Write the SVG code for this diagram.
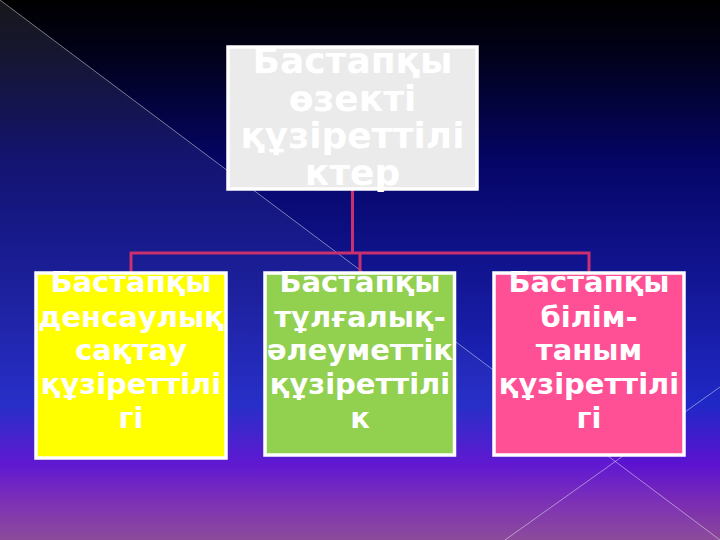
<svg xmlns="http://www.w3.org/2000/svg" width="720" height="540" viewBox="0 0 720 540">
<defs>
<linearGradient id="bg" x1="0" y1="0" x2="0" y2="1">
<stop offset="0" stop-color="#000000"/>
<stop offset="0.1" stop-color="#01011a"/>
<stop offset="0.3" stop-color="#050566"/>
<stop offset="0.55" stop-color="#14189a"/>
<stop offset="0.75" stop-color="#2028c6"/>
<stop offset="0.86" stop-color="#5c12d0"/>
<stop offset="0.93" stop-color="#7a2cb4"/>
<stop offset="1" stop-color="#8a4898"/>
</linearGradient>
<linearGradient id="ov" x1="0" y1="0" x2="0" y2="1">
<stop offset="0" stop-color="#d8d8ff" stop-opacity="0.11"/>
<stop offset="0.45" stop-color="#b0b8ff" stop-opacity="0.06"/>
<stop offset="1" stop-color="#ffffff" stop-opacity="0.02"/>
</linearGradient>
<style>
.box{stroke:#ffffff;stroke-width:3.5}
.t{font-family:"DejaVu Sans","Noto Sans",sans-serif;font-weight:bold;fill:#ffffff;text-anchor:middle}
.top{font-size:36px}
.ch{font-size:29px}
.con{fill:none;stroke:#c8306e;stroke-width:3}
.bgline{stroke:#ffffff;stroke-opacity:0.45;stroke-width:1}
</style>
</defs>
<g id="background">
<rect x="0" y="0" width="720" height="540" fill="url(#bg)"/>
<polygon points="0,0 720,540 0,540" fill="url(#ov)"/>
<line class="bgline" x1="0" y1="0" x2="720" y2="540"/>
<line class="bgline" x1="720" y1="387" x2="505" y2="540"/>
</g>
<g id="connectors">
<path class="con" d="M352.5,189 V253"/>
<path class="con" d="M131,272 V253 H589 V272"/>
<path class="con" d="M360,253 V272"/>
</g>
<g id="node-root">
<rect class="box" x="228" y="47" width="249" height="142" fill="#ebebeb"/>
<text class="t top" x="352.5" y="73">Бастапқы</text>
<text class="t top" x="352.5" y="111">өзекті</text>
<text class="t top" x="352.5" y="148">құзіреттілі</text>
<text class="t top" x="352.5" y="185">ктер</text>
</g>
<g id="node-health">
<rect class="box" x="36" y="273" width="190" height="185" fill="#ffff00"/>
<text class="t ch" x="131" y="292">Бастапқы</text>
<text class="t ch" x="131" y="327">денсаулық</text>
<text class="t ch" x="131" y="360">сақтау</text>
<text class="t ch" x="131" y="394">құзіреттілі</text>
<text class="t ch" x="131" y="428">гі</text>
</g>
<g id="node-social">
<rect class="box" x="265" y="273" width="189.5" height="182" fill="#92d050"/>
<text class="t ch" x="360" y="292">Бастапқы</text>
<text class="t ch" x="360" y="327">тұлғалық-</text>
<text class="t ch" x="360" y="360">әлеуметтік</text>
<text class="t ch" x="360" y="394">құзіреттілі</text>
<text class="t ch" x="360" y="428">к</text>
</g>
<g id="node-cognitive">
<rect class="box" x="494" y="273" width="190" height="182" fill="#ff5096"/>
<text class="t ch" x="589" y="292">Бастапқы</text>
<text class="t ch" x="589" y="327">білім-</text>
<text class="t ch" x="589" y="360">таным</text>
<text class="t ch" x="589" y="394">құзіреттілі</text>
<text class="t ch" x="589" y="428">гі</text>
</g>
</svg>
